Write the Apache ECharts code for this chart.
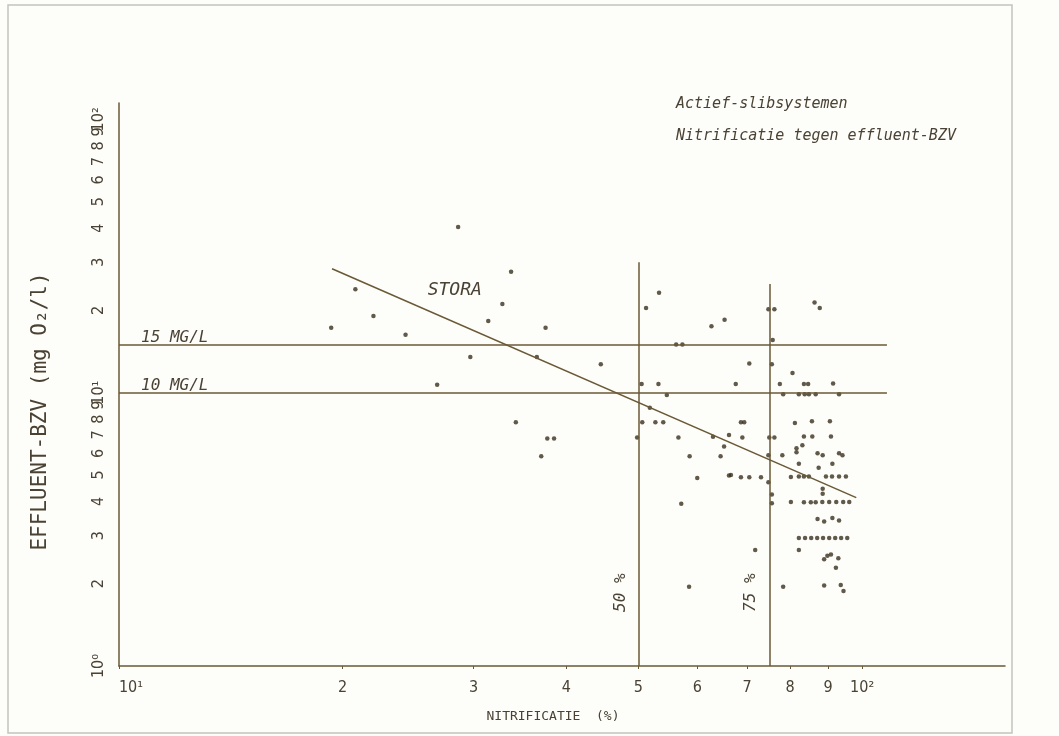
<!DOCTYPE html>
<html>
<head>
<meta charset="utf-8">
<script src="https://cdn.jsdelivr.net/npm/echarts@6/dist/echarts.min.js"></script>
<style>
  html, body { margin: 0; background: #fdfdf9; }
  #chart { width: 1059px; height: 736px; }
</style>
</head>
<body>
<div id="chart"></div>
<script>
// nitrificatie (%) / effluent-BZV (mg O2/l)
const nitrificatie = [
  19.3, 20.8, 22.0, 24.3, 26.8, 28.6, 29.7, 31.4, 32.8, 33.7, 34.2, 36.5, 37.5, 37.0, 37.7, 38.5, 44.5,
  49.8, 50.5, 53.2, 51.2, 53.3, 54.6, 51.8, 50.6, 52.7, 54.0, 56.6, 56.2, 57.3, 58.6, 60.0, 57.1, 58.5,
  62.7, 65.3, 63.0, 65.2, 64.5, 66.2, 66.2, 69.0, 70.5, 67.6, 68.7, 69.4, 66.6, 68.7, 70.5, 73.1, 71.8,
  74.8, 76.2, 75.8, 75.6, 75.0, 76.2, 74.8, 74.8, 75.6, 75.6,
  77.5, 78.3, 80.6, 82.2, 83.7, 84.8, 86.6, 93.1, 83.5, 84.6, 91.4, 86.3, 87.7, 78.1, 81.2, 85.6, 90.5,
  83.5, 85.7, 90.8, 83.1, 81.6, 81.6, 87.1, 88.5, 93.1, 94.1, 82.2, 91.2, 87.4, 80.2, 82.2, 83.5, 84.8,
  89.4, 91.1, 93.1, 95.1, 88.5, 88.5, 80.2, 83.5, 85.3, 86.6, 88.4, 90.3, 92.3, 94.3, 96.1, 87.1, 88.9,
  91.2, 93.1, 82.2, 83.8, 85.4, 87.0, 88.6, 90.3, 92.0, 93.7, 95.5, 82.2, 89.8, 90.8, 88.9, 92.9, 92.2,
  88.9, 93.6, 94.4, 78.3
];
const effluentBzv = [
  17.3, 23.9, 19.1, 16.3, 10.7, 40.4, 13.5, 18.3, 21.1, 27.7, 7.8, 13.5, 17.3, 5.85, 6.8, 6.8, 12.7,
  6.85, 10.75, 10.75, 20.4, 23.2, 9.8, 8.8, 7.8, 7.8, 7.8, 6.85, 15, 15, 5.85, 4.87, 3.92, 1.95,
  17.5, 18.5, 6.9, 6.35, 5.85, 4.98, 7.0, 6.85, 12.8, 10.75, 7.8, 7.8, 5.0, 4.9, 4.9, 4.9, 2.66,
  20.2, 20.2, 15.6, 12.7, 6.85, 6.85, 5.9, 4.7, 4.24, 3.94,
  10.75, 9.87, 11.8, 9.87, 9.87, 9.87, 9.87, 9.87, 10.75, 10.75, 10.8, 21.4, 20.4, 5.9, 7.75, 7.86, 7.86,
  6.92, 6.92, 6.92, 6.42, 6.05, 6.26, 6.0, 5.9, 6.0, 5.9, 5.5, 5.5, 5.31, 4.91, 4.94, 4.94, 4.94,
  4.94, 4.94, 4.94, 4.94, 4.45, 4.27, 3.98, 3.97, 3.97, 3.97, 3.98, 3.98, 3.98, 3.98, 3.98, 3.45, 3.38,
  3.48, 3.41, 2.94, 2.94, 2.94, 2.94, 2.94, 2.94, 2.94, 2.94, 2.94, 2.66, 2.53, 2.56, 2.46, 2.48, 2.29,
  1.97, 1.98, 1.88, 1.95
];

// tick values (axes are log10)
const xTicks = [10, 20, 30, 40, 50, 60, 70, 80, 90, 100];
const yTicks = [1, 2, 3, 4, 5, 6, 7, 8, 9, 10, 20, 30, 40, 50, 60, 70, 80, 90, 100];
const xRange = [10, 155.7];
const yRange = [1, 114.8];

// reference lines
const bzvLimits = [15, 10];
const bzvLimitLabels = ['15 MG/L', '10 MG/L'];
const limitLineEnd = 108;
const nitLimits = [50, 75];
const nitLimitTops = [30, 25];
const nitLimitLabels = ['50 %', '75 %'];
const storaLine = [[19.35, 28.4], [98.2, 4.13]];
const storaLabelAt = [28.3, 23.6];

const lg = Math.log10;
const ink = '#3a2f1e';
const lineInk = '#6a5936';
const textInk = '#4a4234';
const cond = '"DejaVu Sans Condensed", "Liberation Sans Narrow", sans-serif';
const mono = '"DejaVu Sans Mono", "Liberation Mono", monospace';

const sup = { 0: '\u2070', 1: '\u00b9', 2: '\u00b2' };

const points = nitrificatie.map((x, i) => [lg(x), lg(effluentBzv[i])]);

// the top label sits jammed against "9" like on the original, so put it first
// to keep echarts' min/max overlap check from dropping one of them
const yLabelValues = [yTicks[yTicks.length - 1]].concat(yTicks.slice(0, -1)).map(lg);

const markLines = [];
bzvLimits.forEach((v, i) => {
  markLines.push([
    { coord: [lg(xRange[0]), lg(v)],
      label: { formatter: bzvLimitLabels[i], position: 'insideStartTop', distance: [22, -1],
               color: textInk, fontFamily: mono, fontStyle: 'italic', fontSize: 16 } },
    { coord: [lg(limitLineEnd), lg(v)] }
  ]);
});
nitLimits.forEach((v, i) => {
  markLines.push([
    { coord: [lg(v), lg(yRange[0])],
      label: { formatter: nitLimitLabels[i], position: 'insideStartTop', distance: [54, 10],
               color: textInk, fontFamily: mono, fontStyle: 'italic', fontSize: 16 } },
    { coord: [lg(v), lg(nitLimitTops[i])] }
  ]);
});

const chart = echarts.init(document.getElementById('chart'));
chart.setOption({
  animation: false,
  backgroundColor: '#fdfdf9',
  title: {
    text: 'Actief-slibsystemen\nNitrificatie tegen effluent-BZV',
    left: 671,
    top: 83,
    textStyle: { color: textInk, fontFamily: mono, fontStyle: 'italic', fontWeight: 'normal',
                 fontSize: 15, lineHeight: 32 }
  },
  graphic: [{
    type: 'rect',
    shape: { x: 8, y: 5, width: 1004, height: 728 },
    style: { fill: 'none', stroke: '#c4c4bf', lineWidth: 1.5 },
    silent: true
  }],
  grid: { left: 119, right: 54, top: 103, bottom: 70 },
  xAxis: {
    type: 'value',
    min: lg(xRange[0]),
    max: lg(xRange[1]),
    name: 'NITRIFICATIE  (%)',
    nameLocation: 'middle',
    nameGap: 44,
    nameTextStyle: { color: textInk, fontFamily: mono, fontSize: 13, padding: [0, 18, 0, 0] },
    axisLine: { lineStyle: { color: lineInk, width: 1.5 } },
    axisTick: { show: true, length: 3, customValues: xTicks.map(lg), lineStyle: { color: lineInk } },
    axisLabel: {
      customValues: xTicks.map(lg),
      margin: 14,
      color: textInk,
      fontFamily: cond,
      fontSize: 16,
      showMaxLabel: true,
      formatter: v => {
        const n = Math.round(Math.pow(10, v));
        if (n === 10) return '{first|10' + sup[1] + '}';
        if (n === 100) return '10' + sup[2];
        return String(n / 10);
      },
      rich: { first: { padding: [0, 0, 0, 24], fontFamily: cond, fontSize: 16, color: textInk } }
    },
    splitLine: { show: false }
  },
  yAxis: {
    type: 'value',
    min: lg(yRange[0]),
    max: lg(yRange[1]),
    name: 'EFFLUENT-BZV (mg O\u2082/l)',
    nameLocation: 'middle',
    nameGap: 68,
    nameTextStyle: { color: textInk, fontFamily: mono, fontSize: 21, padding: [0, 54, 0, 0] },
    axisLine: { show: true, lineStyle: { color: lineInk, width: 1.5 } },
    axisTick: { show: false },
    axisLabel: {
      customValues: yLabelValues,
      rotate: 90,
      margin: 12,
      color: textInk,
      fontFamily: cond,
      fontSize: 16,
      formatter: v => {
        const n = Math.round(Math.pow(10, v));
        if (n === 1) return '10' + sup[0];
        if (n === 10) return '10' + sup[1];
        if (n === 100) return '10' + sup[2];
        return String(n < 10 ? n : n / 10);
      }
    },
    splitLine: { show: false }
  },
  series: [
    {
      name: 'STORA',
      type: 'line',
      data: storaLine.map(p => [lg(p[0]), lg(p[1])]),
      showSymbol: false,
      lineStyle: { color: lineInk, width: 1.5 },
      markPoint: {
        symbol: 'circle',
        symbolSize: 0,
        data: [{ coord: [lg(storaLabelAt[0]), lg(storaLabelAt[1])] }],
        label: { show: true, formatter: 'STORA', color: textInk, fontFamily: mono,
                 fontStyle: 'italic', fontSize: 18 }
      }
    },
    {
      name: 'installaties',
      type: 'scatter',
      data: points,
      symbolSize: 4.5,
      itemStyle: { color: ink },
      markLine: {
        silent: true,
        symbol: ['none', 'none'],
        lineStyle: { color: lineInk, width: 1.5, type: 'solid' },
        data: markLines
      }
    }
  ]
});
</script>
</body>
</html>
